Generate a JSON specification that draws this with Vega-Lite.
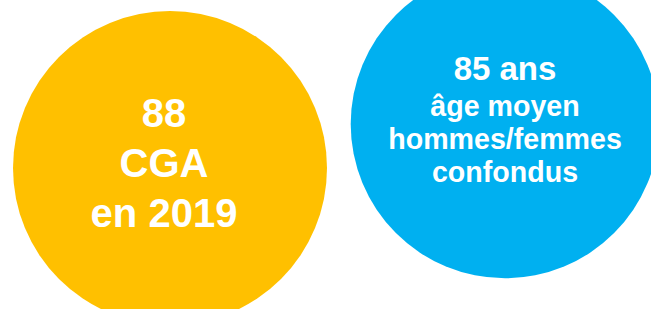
{
  "$schema": "https://vega.github.io/schema/vega-lite/v6.json",
  "width": 651,
  "height": 309,
  "padding": 0,
  "autosize": {"type": "fit", "contains": "padding"},
  "background": "#ffffff",
  "config": {"view": {"stroke": null}},
  "data": {
    "values": [
      {"id": "CGA", "value": 88, "head": "88\nCGA\nen 2019", "sub": ""},
      {"id": "age", "value": 85, "head": "85 ans", "sub": "âge moyen\nhommes/femmes\nconfondus"}
    ]
  },
  "encoding": {
    "x": {"field": "id", "type": "nominal", "axis": null, "scale": {"domain": ["CGA", "age"], "range": [170, 505], "padding": 0}},
    "y": {"field": "id", "type": "nominal", "axis": null, "scale": {"domain": ["CGA", "age"], "range": [168, 124], "padding": 0}}
  },
  "layer": [
    {
      "mark": {"type": "point", "shape": "circle", "filled": true, "opacity": 1, "strokeWidth": 0, "clip": true},
      "encoding": {
        "size": {"field": "value", "type": "quantitative", "legend": null, "scale": {"type": "linear", "domain": [0, 88], "range": [0, 98596]}},
        "color": {"field": "id", "type": "nominal", "legend": null, "scale": {"domain": ["CGA", "age"], "range": ["#FFC000", "#00B0F0"]}}
      }
    },
    {
      "transform": [{"filter": "datum.id === 'CGA'"}],
      "mark": {"type": "text", "font": "Liberation Sans", "fontWeight": "bold", "fontSize": 40, "color": "#ffffff", "align": "center", "baseline": "alphabetic", "lineBreak": "\n", "lineHeight": 50, "dx": -6, "dy": -41},
      "encoding": {"text": {"field": "head"}}
    },
    {
      "transform": [{"filter": "datum.id === 'age'"}],
      "mark": {"type": "text", "font": "Liberation Sans", "fontWeight": "bold", "fontSize": 33, "color": "#ffffff", "align": "center", "baseline": "alphabetic", "dy": -44},
      "encoding": {"text": {"field": "head"}}
    },
    {
      "transform": [{"filter": "datum.id === 'age'"}],
      "mark": {"type": "text", "font": "Liberation Sans", "fontWeight": "bold", "fontSize": 28.6, "color": "#ffffff", "align": "center", "baseline": "alphabetic", "lineBreak": "\n", "lineHeight": 33, "dy": -8},
      "encoding": {"text": {"field": "sub"}}
    }
  ]
}
